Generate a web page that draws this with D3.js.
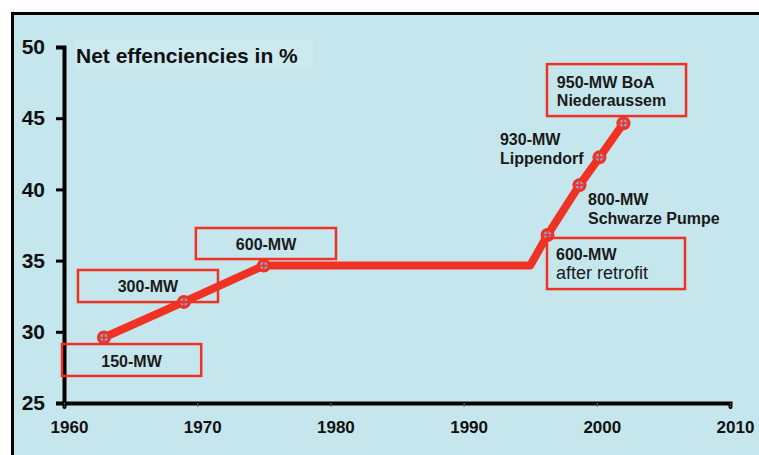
<!DOCTYPE html>
<html>
<head>
<meta charset="utf-8">
<script src="https://cdn.jsdelivr.net/npm/d3@7"></script>
<style>
  body { margin: 0; background: #fff; }
  text { font-family: "Liberation Sans", Arial, sans-serif; }
</style>
</head>
<body>
<svg width="759" height="455"></svg>
<script>
// Chart data
const years = [1963, 1969, 1975, 1995, 1996.3, 1998.7, 2000.2, 2002];
const efficiency = [29.6, 32.1, 34.65, 34.65, 36.8, 40.3, 42.25, 44.65];
const hasMarker = [true, true, true, false, true, true, true, true];
const yTicks = [25, 30, 35, 40, 45, 50];
const xTicks = [1960, 1970, 1980, 1990, 2000, 2010];
const title = "Net effenciencies in %";
const plantLabels = [
  ["150-MW"],
  ["300-MW"],
  ["600-MW"],
  ["600-MW", "after retrofit"],
  ["800-MW", "Schwarze Pumpe"],
  ["930-MW", "Lippendorf"],
  ["950-MW BoA", "Niederaussem"]
];

// Label layout (in data units): box = [x0, x1, yTop, yBottom], text at (tx, ty)
const labelLayout = [
  {box: [1959.85, 1970.3, 29.14, 26.9], tx: 1965.07, ty: 27.88, anchor: "middle"},
  {box: [1961.05, 1971.56, 34.34, 32.09], tx: 1966.3, ty: 33.15, anchor: "middle"},
  {box: [1969.9, 1980.42, 37.29, 35.11], tx: 1975.17, ty: 36.1, anchor: "middle"},
  {box: [1996.26, 2006.62, 36.59, 33.0], tx: 1996.94, ty: 35.46, anchor: "start", weights: ["bold", "normal"], sizes: [16, 18]},
  {box: null, tx: 1999.34, ty: 39.26, anchor: "start"},
  {box: null, tx: 1992.73, ty: 43.47, anchor: "start"},
  {box: [1996.26, 2006.7, 48.8, 45.15], tx: 1997.0, ty: 47.54, anchor: "start"}
];

const red = "#ef3224";
const svg = d3.select("svg");

// Frame and background
svg.append("rect")
    .attr("x", 12.5).attr("y", 13.5)
    .attr("width", 800).attr("height", 500)
    .attr("fill", "#c5e6ec")
    .attr("stroke", "#000")
    .attr("stroke-width", 3);

// Scales
let x = d3.scaleLinear().domain([1960, 2010]).range([64, 730]);
let y = d3.scaleLinear().domain([25, 50]).range([403, 47]);

// Title with its lighter backdrop
svg.append("rect")
    .attr("x", 75).attr("y", 40).attr("width", 238).attr("height", 30)
    .attr("fill", "#cbe9ef");
svg.append("text")
    .attr("x", 76).attr("y", 55)
    .attr("dominant-baseline", "central")
    .attr("font-size", 21).attr("font-weight", "bold")
    .attr("fill", "#111")
    .text(title);

// Y axis
let yAxis = svg.append("g")
    .attr("transform", "translate(" + x(1960) + ",0)")
    .call(d3.axisLeft(y).tickValues(yTicks).tickSize(8).tickPadding(11).tickFormat(d3.format("d")));
yAxis.select(".domain").attr("stroke", "#000").attr("stroke-width", 4);
yAxis.selectAll(".tick line").attr("stroke", "#000").attr("stroke-width", 3);
yAxis.selectAll(".tick text")
    .attr("font-size", 21).attr("font-weight", "bold").attr("fill", "#111")
    .attr("font-family", "Liberation Sans, Arial, sans-serif");
yAxis.selectAll(".tick").filter(d => d === 25).select("line").remove();

// X axis
let xAxis = svg.append("g")
    .attr("transform", "translate(0," + y(25) + ")")
    .call(d3.axisBottom(x).tickValues(xTicks).tickSize(4).tickPadding(14).tickFormat(d3.format("d")));
xAxis.select(".domain").attr("stroke", "#000").attr("stroke-width", 4).attr("stroke-linecap", "round");
xAxis.selectAll(".tick line").attr("stroke", "#777").attr("stroke-width", 1.2).attr("stroke-dasharray", "1.5,1.5");
xAxis.selectAll(".tick text")
    .attr("dx", 5)
    .attr("font-size", 17).attr("font-weight", "bold").attr("fill", "#111")
    .attr("font-family", "Liberation Sans, Arial, sans-serif");

// Efficiency line
let points = years.map((yr, i) => ({year: yr, value: efficiency[i], marker: hasMarker[i]}));
let valueline = d3.line()
    .x(d => x(d.year))
    .y(d => y(d.value));

svg.append("path")
    .datum(points)
    .attr("fill", "none")
    .attr("stroke", red)
    .attr("stroke-width", 8)
    .attr("stroke-linejoin", "round")
    .attr("d", valueline);

// Markers
let markers = svg.selectAll(".marker")
    .data(points.filter(d => d.marker))
    .enter().append("g")
    .attr("class", "marker")
    .attr("transform", d => "translate(" + x(d.year) + "," + y(d.value) + ")");
markers.append("circle").attr("r", 7).attr("fill", red);
markers.append("circle").attr("r", 3.8).attr("fill", "#8fa4cc");
markers.append("path")
    .attr("d", "M-4,0H4M0,-4V4")
    .attr("stroke", red).attr("stroke-width", 1.6);

// Annotation labels
plantLabels.forEach((lines, i) => {
  let lay = labelLayout[i];
  if (lay.box) {
    svg.append("rect")
        .attr("x", x(lay.box[0]))
        .attr("y", y(lay.box[2]))
        .attr("width", x(lay.box[1]) - x(lay.box[0]))
        .attr("height", y(lay.box[3]) - y(lay.box[2]))
        .attr("fill", "none")
        .attr("stroke", red)
        .attr("stroke-width", 2.5);
  }
  lines.forEach((line, j) => {
    svg.append("text")
        .attr("x", x(lay.tx))
        .attr("y", y(lay.ty) + j * 18.5)
        .attr("dominant-baseline", "central")
        .attr("text-anchor", lay.anchor)
        .attr("font-size", lay.sizes ? lay.sizes[j] : 16)
        .attr("font-weight", lay.weights ? lay.weights[j] : "bold")
        .attr("fill", "#1a1a1a")
        .text(line);
  });
});
</script>
</body>
</html>
